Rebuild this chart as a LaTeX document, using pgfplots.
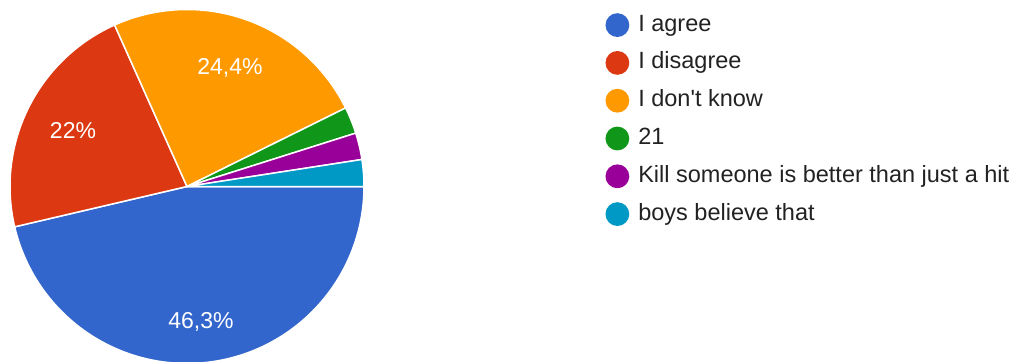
\documentclass[border=0pt]{standalone}
\usepackage{pgfplots}
\pgfplotsset{compat=1.18}
\usepackage{fontspec}
\setmainfont{Liberation Sans}
\definecolor{gblue}{HTML}{3366CC}
\definecolor{gred}{HTML}{DC3912}
\definecolor{gorange}{HTML}{FF9900}
\definecolor{ggreen}{HTML}{109618}
\definecolor{gpurple}{HTML}{990099}
\definecolor{gteal}{HTML}{0099C6}
\definecolor{txt}{HTML}{222222}
\begin{document}
\begin{tikzpicture}
\def\cx{187}\def\cy{186.5}\def\R{177}
% response counts (41 responses)
\def\nA{19}\def\nB{9}\def\nC{10}\def\nD{1}\def\nE{1}\def\nF{1}\def\N{41}
\pgfmathsetmacro\aA{360*\nA/\N}
\pgfmathsetmacro\aB{\aA+360*\nB/\N}
\pgfmathsetmacro\aC{\aB+360*\nC/\N}
\pgfmathsetmacro\aD{\aC+360*\nD/\N}
\pgfmathsetmacro\aE{\aD+360*\nE/\N}
\pgfmathsetmacro\aF{\aE+360*\nF/\N}
\begin{axis}[hide axis, scale only axis, width=1022bp, height=361bp,
  xmin=0, xmax=1022, ymin=0, ymax=361, y dir=reverse,
  legend cell align=left,
  legend style={at={(axis cs:602.3,11)}, anchor=north west, draw=none, fill=none,
    font=\fontsize{23.5bp}{27bp}\selectfont, text=txt, row sep=14bp, column sep=9bp,
    nodes={inner sep=0pt, text height=17bp, text depth=5bp}},
  legend image code/.code={\fill[#1,draw=none] (11.9bp,0bp) circle (11.9bp);}]
\addplot[fill=gblue, draw=white, line width=1.5bp, domain=0:\aA, samples=120] ({\cx+\R*cos(x)},{\cy+\R*sin(x)}) -- (axis cs:\cx,\cy) -- cycle;
\addlegendentry{I agree}
\addplot[fill=gred, draw=white, line width=1.5bp, domain=\aA:\aB, samples=80] ({\cx+\R*cos(x)},{\cy+\R*sin(x)}) -- (axis cs:\cx,\cy) -- cycle;
\addlegendentry{I disagree}
\addplot[fill=gorange, draw=white, line width=1.5bp, domain=\aB:\aC, samples=80] ({\cx+\R*cos(x)},{\cy+\R*sin(x)}) -- (axis cs:\cx,\cy) -- cycle;
\addlegendentry{I don\textquotesingle t know}
\addplot[fill=ggreen, draw=white, line width=1.5bp, domain=\aC:\aD, samples=20] ({\cx+\R*cos(x)},{\cy+\R*sin(x)}) -- (axis cs:\cx,\cy) -- cycle;
\addlegendentry{21}
\addplot[fill=gpurple, draw=white, line width=1.5bp, domain=\aD:\aE, samples=20] ({\cx+\R*cos(x)},{\cy+\R*sin(x)}) -- (axis cs:\cx,\cy) -- cycle;
\addlegendentry{Kill someone is better than just a hit}
\addplot[fill=gteal, draw=white, line width=1.5bp, domain=\aE:\aF, samples=20] ({\cx+\R*cos(x)},{\cy+\R*sin(x)}) -- (axis cs:\cx,\cy) -- cycle;
\addlegendentry{boys believe that}
\node[white, font=\fontsize{23bp}{27bp}\selectfont] at (axis cs:201,322) {46,3\%};
\node[white, font=\fontsize{23bp}{27bp}\selectfont] at (axis cs:73,131) {22\%};
\node[white, font=\fontsize{23bp}{27bp}\selectfont] at (axis cs:230,68) {24,4\%};
\end{axis}
\path (current axis.south west) rectangle (current axis.north east);
\end{tikzpicture}
\end{document}
